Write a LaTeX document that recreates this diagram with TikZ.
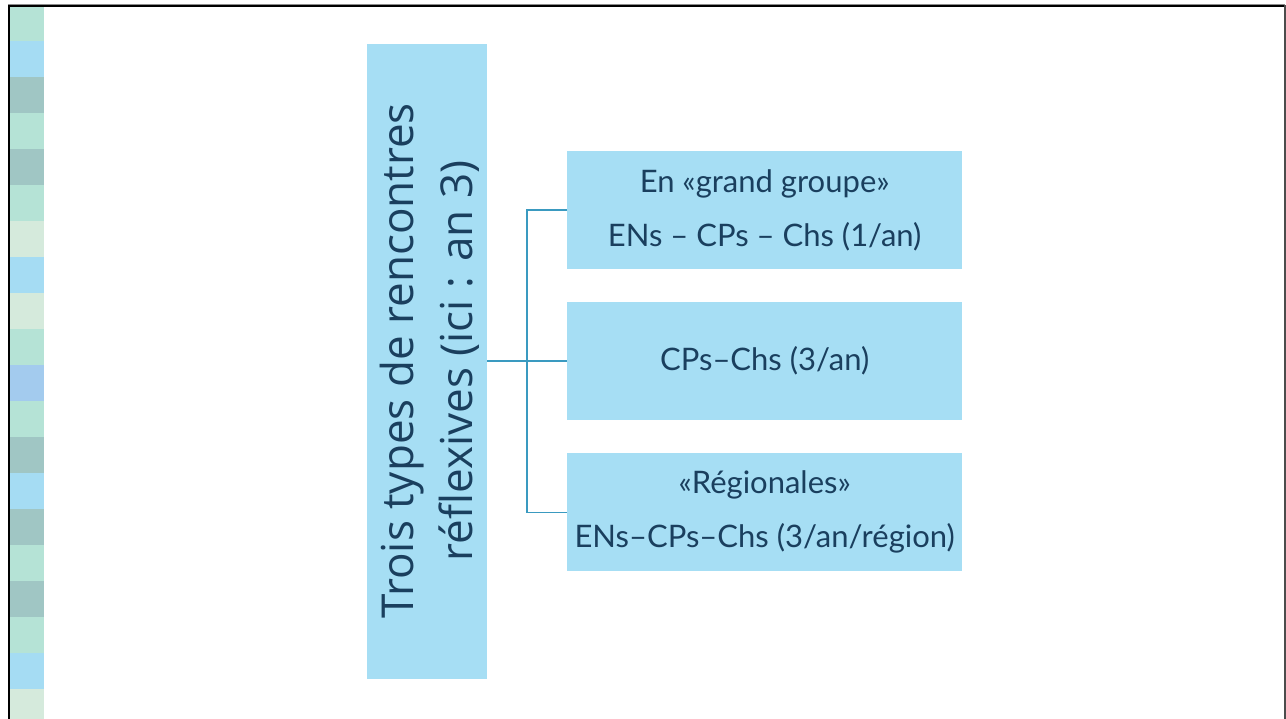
\documentclass[tikz,border=0pt]{standalone}
\usepackage{fontspec}
\setmainfont{Lato}
\newfontfamily\vertfont{Open Sans}
\definecolor{boxfill}{HTML}{A6DEF4}
\definecolor{txt}{HTML}{1A3F5E}
\definecolor{conn}{HTML}{3A9AC0}
\definecolor{sqMint}{HTML}{B5E3D6}
\definecolor{sqBlue}{HTML}{A5DCF3}
\definecolor{sqGrey}{HTML}{A0C6C4}
\definecolor{sqPale}{HTML}{D5EADC}
\definecolor{sqBlueB}{HTML}{A3CBEE}
\begin{document}
\begin{tikzpicture}[x=1pt,y=-1pt,
  boxstyle/.style={fill=boxfill, draw=none, text=txt, inner sep=0pt, align=center, anchor=north west},
  rbox/.style={boxstyle, minimum width=395pt, minimum height=118pt, font=\fontsize{31}{54}\selectfont},
  connline/.style={draw=conn, line width=1.4pt}
]
\useasboundingbox (0,0) rectangle (1286,719);
\fill[white] (0,0) rectangle (1286,719);
% left strip squares
\foreach \c [count=\i from 0] in {sqMint,sqBlue,sqGrey,sqMint,sqGrey,sqMint,sqPale,sqBlue,sqPale,sqMint,sqBlueB,sqMint,sqGrey,sqBlue,sqGrey,sqMint,sqGrey,sqMint,sqBlue,sqPale}
  \fill[\c] (10,5+36*\i) rectangle (44,41+36*\i);
% frame
\fill[black!45] (8,4) rectangle (1285,5);
\fill[black] (8,5) rectangle (1284,7.5);
\fill[black] (8,5) rectangle (10,719);
\fill[black!70] (1284,5) rectangle (1285.5,719);
% main vertical box
\node[boxstyle, minimum width=120pt, minimum height=635pt] (main) at (367,44) {};
\node[text=txt, rotate=90, align=center, font=\vertfont\fontsize{44}{59}\selectfont] (maintext) at (430,361) {Trois types de rencontres\\réflexives (ici : an 3)};
% right boxes
\node[rbox] (b1) at (567,151) {En «grand groupe»\\ENs – CPs – Chs (1/an)};
\node[rbox] (b2) at (567,302) {CPs–Chs (3/an)};
\node[rbox] (b3) at (567,453) {«Régionales»\\ENs–CPs–Chs (3/an/région)};
% connectors
\draw[connline] (main.east |- b2.west) -- (b2.west);
\draw[connline] (b1.west) -- ++(-40,0) |- (b3.west);
\end{tikzpicture}
\end{document}
